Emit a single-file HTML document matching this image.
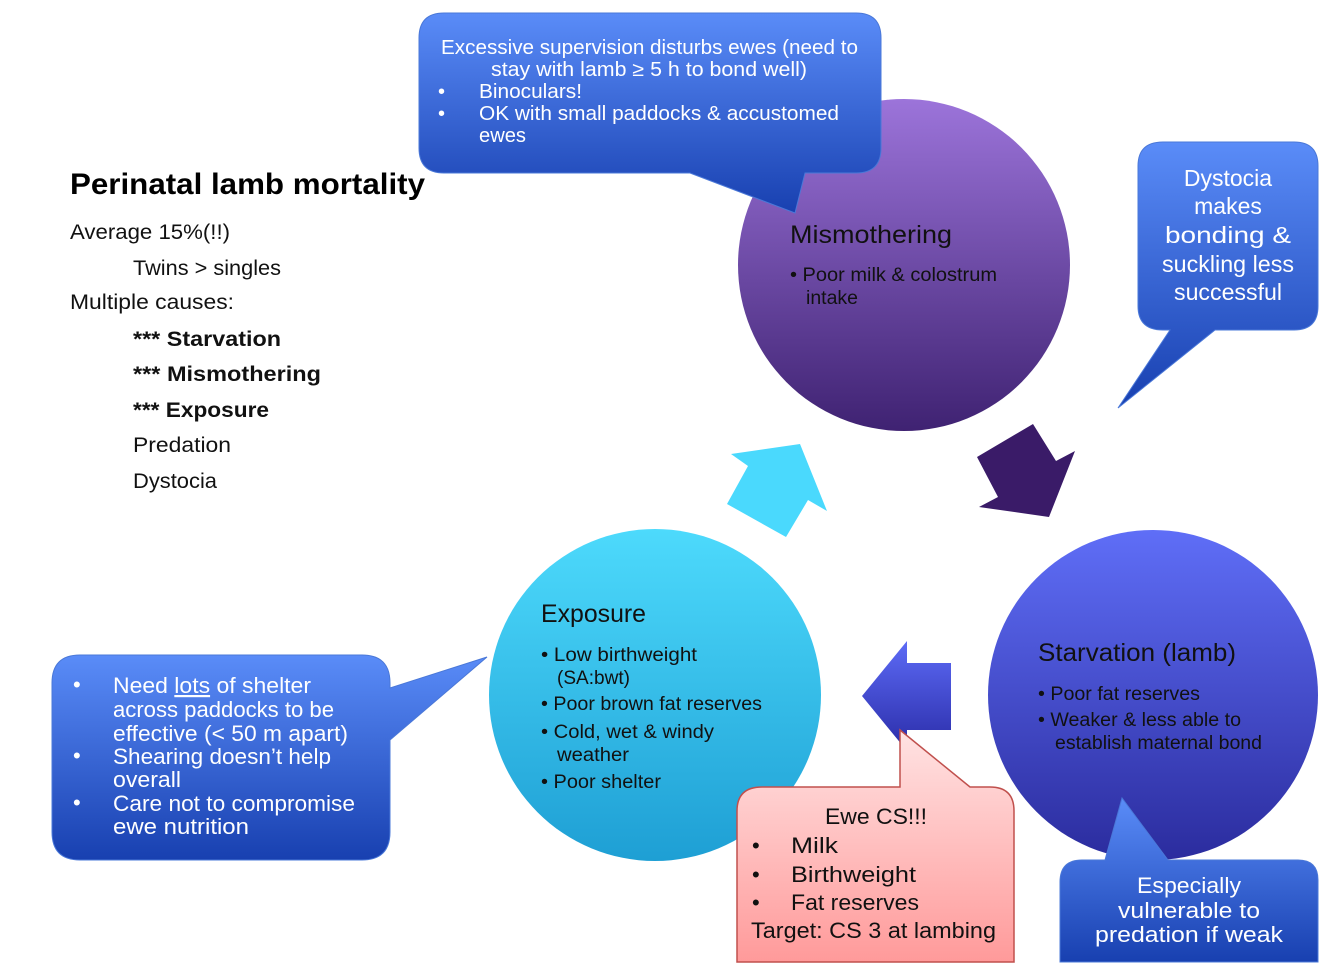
<!DOCTYPE html>
<html><head><meta charset="utf-8"><style>
html,body{margin:0;padding:0;background:#fff}
svg{display:block}
text{font-family:"Liberation Sans",sans-serif}
</style></head><body>
<svg width="1334" height="971" viewBox="0 0 1334 971" xmlns="http://www.w3.org/2000/svg">
<defs>
<linearGradient id="gb" x1="0" y1="0" x2="0" y2="1"><stop offset="0" stop-color="#5a8cf8"/><stop offset="1" stop-color="#1840b0"/></linearGradient>
<linearGradient id="gm" x1="0" y1="0" x2="0" y2="1"><stop offset="0" stop-color="#9c74da"/><stop offset="1" stop-color="#3f2272"/></linearGradient>
<linearGradient id="gs" x1="0" y1="0" x2="0" y2="1"><stop offset="0" stop-color="#5f6ef7"/><stop offset="1" stop-color="#2b2c9e"/></linearGradient>
<linearGradient id="ge" x1="0" y1="0" x2="0" y2="1"><stop offset="0" stop-color="#4ddafc"/><stop offset="1" stop-color="#1e9fd4"/></linearGradient>
<linearGradient id="gp" x1="0" y1="0" x2="0" y2="1"><stop offset="0" stop-color="#ffe3e3"/><stop offset="1" stop-color="#ff9a9a"/></linearGradient>
<linearGradient id="ga" x1="0" y1="0" x2="0" y2="1"><stop offset="0" stop-color="#5d6bf6"/><stop offset="1" stop-color="#2a2ca8"/></linearGradient>
</defs>

<!-- left text -->
<text x="70" y="194" font-size="30" font-weight="bold" textLength="355" lengthAdjust="spacingAndGlyphs">Perinatal lamb mortality</text>
<g font-size="21" fill="#111">
<text x="70" y="239" textLength="160" lengthAdjust="spacingAndGlyphs">Average 15%(!!)</text>
<text x="133" y="275" textLength="148" lengthAdjust="spacingAndGlyphs">Twins &gt; singles</text>
<text x="70" y="309" textLength="164" lengthAdjust="spacingAndGlyphs">Multiple causes:</text>
<text x="133" y="346" font-weight="bold" textLength="148" lengthAdjust="spacingAndGlyphs">*** Starvation</text>
<text x="133" y="381" font-weight="bold" textLength="188" lengthAdjust="spacingAndGlyphs">*** Mismothering</text>
<text x="133" y="417" font-weight="bold" textLength="136" lengthAdjust="spacingAndGlyphs">*** Exposure</text>
<text x="133" y="452" textLength="98" lengthAdjust="spacingAndGlyphs">Predation</text>
<text x="133" y="488" textLength="84" lengthAdjust="spacingAndGlyphs">Dystocia</text>
</g>

<!-- circles -->
<circle cx="904" cy="265" r="166" fill="url(#gm)"/>
<circle cx="1153" cy="695" r="165" fill="url(#gs)"/>
<circle cx="655" cy="695" r="166" fill="url(#ge)"/>

<!-- arrows -->
<polygon points="731,454 800,444 827,511 808,500 786,537 727,504 748,466" fill="#4ad9fd"/>
<polygon points="977,457 1033,424 1056,461 1075,451 1049,517 979,507 998,497" fill="#3a1b68"/>
<polygon points="862,696 907,641 907,663 951,663 951,730 907,730 907,751" fill="url(#ga)"/>

<!-- circle text -->
<g fill="#111">
<text x="790" y="243" font-size="25" textLength="162" lengthAdjust="spacingAndGlyphs">Mismothering</text>
<text x="790" y="281" font-size="19" textLength="207" lengthAdjust="spacingAndGlyphs">• Poor milk &amp; colostrum</text>
<text x="806" y="304" font-size="19" textLength="52" lengthAdjust="spacingAndGlyphs">intake</text>

<text x="1038" y="661" font-size="25" textLength="198" lengthAdjust="spacingAndGlyphs">Starvation (lamb)</text>
<text x="1038" y="700" font-size="19" textLength="162" lengthAdjust="spacingAndGlyphs">• Poor fat reserves</text>
<text x="1038" y="726" font-size="19" textLength="203" lengthAdjust="spacingAndGlyphs">• Weaker &amp; less able to</text>
<text x="1055" y="749" font-size="19" textLength="207" lengthAdjust="spacingAndGlyphs">establish maternal bond</text>

<text x="541" y="622" font-size="25" textLength="105" lengthAdjust="spacingAndGlyphs">Exposure</text>
<text x="541" y="661" font-size="19" textLength="156" lengthAdjust="spacingAndGlyphs">• Low birthweight</text>
<text x="557" y="684" font-size="19" textLength="73" lengthAdjust="spacingAndGlyphs">(SA:bwt)</text>
<text x="541" y="710" font-size="19" textLength="221" lengthAdjust="spacingAndGlyphs">• Poor brown fat reserves</text>
<text x="541" y="738" font-size="19" textLength="173" lengthAdjust="spacingAndGlyphs">• Cold, wet &amp; windy</text>
<text x="557" y="761" font-size="19" textLength="72" lengthAdjust="spacingAndGlyphs">weather</text>
<text x="541" y="788" font-size="19" textLength="120" lengthAdjust="spacingAndGlyphs">• Poor shelter</text>
</g>

<!-- top callout -->
<path d="M444,13 H856 Q881,13 881,38 V148 Q881,173 856,173 H805 L795,213 L690,173 H444 Q419,173 419,148 V38 Q419,13 444,13 Z" fill="url(#gb)" stroke="#4a78d8" stroke-width="1"/>
<g fill="#fff" font-size="20">
<text x="441" y="54" textLength="417" lengthAdjust="spacingAndGlyphs">Excessive supervision disturbs ewes (need to</text>
<text x="491" y="76" textLength="316" lengthAdjust="spacingAndGlyphs">stay with lamb ≥ 5 h to bond well)</text>
<text x="438" y="98">•</text><text x="479" y="98" textLength="103" lengthAdjust="spacingAndGlyphs">Binoculars!</text>
<text x="438" y="120">•</text><text x="479" y="120" textLength="360" lengthAdjust="spacingAndGlyphs">OK with small paddocks &amp; accustomed</text>
<text x="479" y="142" textLength="47" lengthAdjust="spacingAndGlyphs">ewes</text>
</g>

<!-- dystocia callout -->
<path d="M1163,142 H1294 Q1318,142 1318,166 V306 Q1318,330 1294,330 H1215 L1118,408 L1170,330 H1163 Q1138,330 1138,306 V166 Q1138,142 1163,142 Z" fill="url(#gb)" stroke="#4a78d8" stroke-width="1"/>
<g fill="#fff" font-size="23" text-anchor="middle">
<text x="1228" y="186">Dystocia</text>
<text x="1228" y="214">makes</text>
<text x="1228" y="243" textLength="126" lengthAdjust="spacingAndGlyphs">bonding &amp;</text>
<text x="1228" y="272" textLength="132" lengthAdjust="spacingAndGlyphs">suckling less</text>
<text x="1228" y="300" textLength="108" lengthAdjust="spacingAndGlyphs">successful</text>
</g>

<!-- left callout -->
<path d="M80,655 H362 Q390,655 390,683 V688 L487,657 L390,740 V832 Q390,860 362,860 H80 Q52,860 52,832 V683 Q52,655 80,655 Z" fill="url(#gb)" stroke="#4a78d8" stroke-width="1"/>
<g fill="#fff" font-size="22">
<text x="73" y="692">•</text><text x="113" y="693" textLength="198" lengthAdjust="spacingAndGlyphs">Need <tspan text-decoration="underline">lots</tspan> of shelter</text>
<text x="113" y="717" textLength="221" lengthAdjust="spacingAndGlyphs">across paddocks to be</text>
<text x="113" y="741" textLength="235" lengthAdjust="spacingAndGlyphs">effective (&lt; 50 m apart)</text>
<text x="73" y="763">•</text><text x="113" y="764" textLength="218" lengthAdjust="spacingAndGlyphs">Shearing doesn’t help</text>
<text x="113" y="787" textLength="68" lengthAdjust="spacingAndGlyphs">overall</text>
<text x="73" y="810">•</text><text x="113" y="811" textLength="242" lengthAdjust="spacingAndGlyphs">Care not to compromise</text>
<text x="113" y="834" textLength="136" lengthAdjust="spacingAndGlyphs">ewe nutrition</text>
</g>

<!-- bottom right callout -->
<path d="M1082,860 H1105 L1122,798 L1168,860 H1298 Q1318,860 1318,880 V962 H1060 V882 Q1060,860 1082,860 Z" fill="url(#gb)" stroke="#4a78d8" stroke-width="1"/>
<g fill="#fff" font-size="22" text-anchor="middle">
<text x="1189" y="893" textLength="104" lengthAdjust="spacingAndGlyphs">Especially</text>
<text x="1189" y="918" textLength="142" lengthAdjust="spacingAndGlyphs">vulnerable to</text>
<text x="1189" y="942" textLength="188" lengthAdjust="spacingAndGlyphs">predation if weak</text>
</g>

<!-- pink callout -->
<path d="M762,787 H900 V730 L970,787 H990 Q1014,787 1014,811 V962 H737 V811 Q737,787 762,787 Z" fill="url(#gp)" stroke="#c0504d" stroke-width="1.5"/>
<g fill="#111" font-size="22">
<text x="825" y="824" textLength="102" lengthAdjust="spacingAndGlyphs">Ewe CS!!!</text>
<text x="752" y="853">•</text><text x="791" y="853" textLength="47" lengthAdjust="spacingAndGlyphs">Milk</text>
<text x="752" y="882">•</text><text x="791" y="882" textLength="125" lengthAdjust="spacingAndGlyphs">Birthweight</text>
<text x="752" y="910">•</text><text x="791" y="910" textLength="128" lengthAdjust="spacingAndGlyphs">Fat reserves</text>
<text x="751" y="938" textLength="245" lengthAdjust="spacingAndGlyphs">Target: CS 3 at lambing</text>
</g>
</svg>
</body></html>
